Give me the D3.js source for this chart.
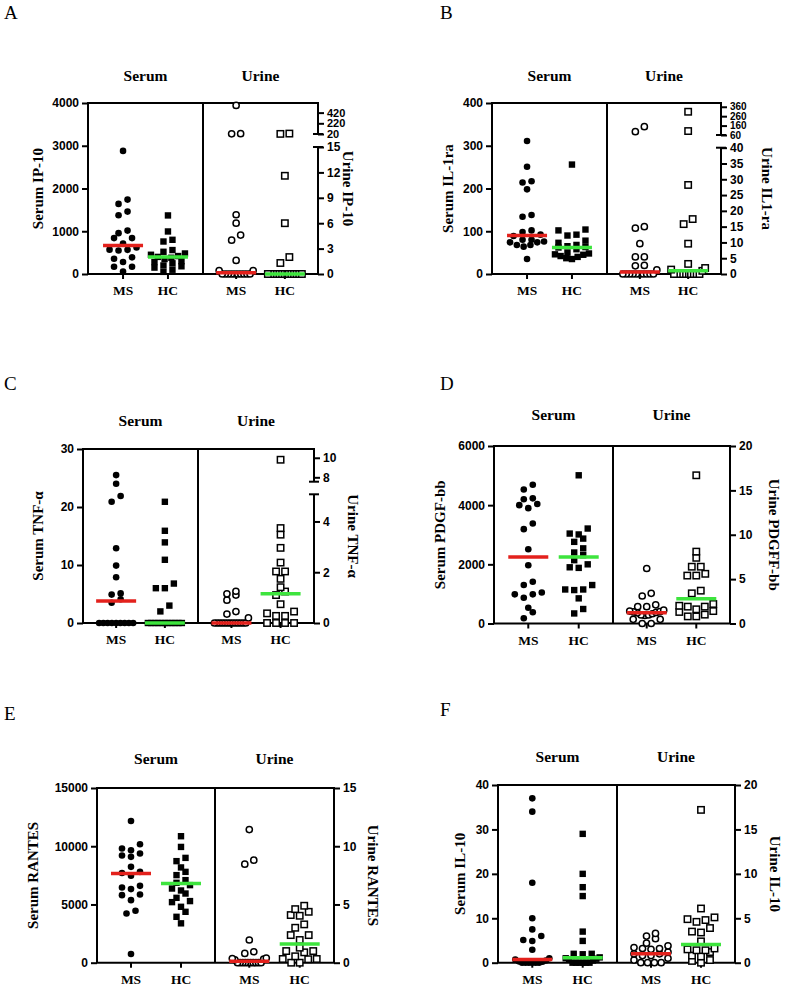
<!DOCTYPE html>
<html><head><meta charset="utf-8">
<script src="https://cdn.jsdelivr.net/npm/d3@7"></script>
<style>body{margin:0;background:#fff} svg{display:block}</style>
</head><body>
<script>
// ---------------- DATA ----------------
const groups = ["MS", "HC"];
const fluids = ["Serum", "Urine"];

// A: IP-10
const A_serum_MS = [2880,1740,1640,1460,1375,1015,955,840,840,715,620,570,565,550,390,355,280,170,170,60];
const A_serum_HC = [1370,995,800,760,560,520,480,450,420,400,380,350,300,280,250,200,180,150,100,50];
const A_urine_MS = [555,27,24,7.0,6.0,4.6,4.0,1.6,0.4,0.4,0,0,0,0,0,0,0,0,0,0];
const A_urine_HC = [28,22,11.6,6.0,2.0,1.3,0,0,0,0,0,0,0,0,0,0,0,0,0,0];
const A_medians = {serumMS:668, serumHC:395, urineMS:0.15, urineHC:0};
const A_leftTicks = [0,1000,2000,3000,4000];
const A_rightLowTicks = [0,3,6,9,12,15];
const A_rightHighTicks = [20,220,420];

// B: IL-1ra
const B_serum_MS = [311,251,217,214,198,138,134,102,98,92,89,80,80,76,74,74,68,68,64,35];
const B_serum_HC = [256,104,102,92,90,78,73,68,65,63,62,58,50,48,46,45,42,40,37,35];
const B_urine_MS = [148,95,15.0,14.5,9.6,5.4,5.4,2.7,2.6,1.3,0,0,0,0,0,0,0,0,0,0];
const B_urine_HC = [307,102,28.2,17.4,15.8,9.6,3.2,1.9,1.4,1.0,0,0,0,0,0,0,0,0,0,0];
const B_medians = {serumMS:90, serumHC:62, urineMS:0.6, urineHC:1.0};
const B_leftTicks = [0,100,200,300,400];
const B_rightLowTicks = [0,5,10,15,20,25,30,35,40];
const B_rightHighTicks = [60,160,260,360];

// C: TNF-alpha
const C_serum_MS = [25.5,24,21.9,20.9,12.9,9.9,7.9,5.1,4.9,4.1,3.5,0,0,0,0,0,0,0,0,0];
const C_serum_HC = [20.9,15.9,13.9,10.9,6.8,6.0,6.0,3.0,2.0,0,0,0,0,0,0,0,0,0,0,0];
const C_urine_MS = [1.25,1.15,1.1,0.9,0.45,0.35,0.2,0,0,0,0,0,0,0,0,0,0,0,0,0];
const C_urine_HC = [9.8,3.74,3.48,2.96,2.38,2.03,2.03,1.74,1.41,1.24,1.1,0.74,0.45,0.38,0.28,0.28,0,0,0,0];
const C_medians = {serumMS:3.8, serumHC:0, urineMS:0, urineHC:1.15};
const C_leftTicks = [0,10,20,30];
const C_rightLowTicks = [0,2,4];
const C_rightHighTicks = [8,10];

// D: PDGF-bb
const D_serum_MS = [4690,4530,4230,4200,4040,4000,3900,3380,3190,2510,1970,1410,1300,1050,985,985,870,530,380,175];
const D_serum_HC = [5010,3210,3040,3010,2870,2760,2540,2400,2310,2140,2000,1900,1880,1300,1150,1150,1130,850,490,340];
const D_urine_MS = [6.2,3.4,3.1,2.1,1.9,1.9,1.5,1.4,1.33,1.3,1.25,1.2,1.1,0.96,0.96,0.9,0.47,0.47,0,0];
const D_urine_HC = [16.7,8.1,7.4,6.4,6.4,5.6,5.4,5.4,3.7,3.4,2.2,2.0,1.9,1.9,1.6,1.4,1.3,1.0,0.8,0.8];
const D_medians = {serumMS:2250, serumHC:2250, urineMS:1.2, urineHC:2.8};
const D_leftTicks = [0,2000,4000,6000];
const D_rightTicks = [0,5,10,15,20];

// E: RANTES
const E_serum_MS = [12170,10170,9810,9660,9380,9210,9090,8230,7800,7700,7460,6600,6460,6320,5860,5800,5370,4460,4230,750];
const E_serum_HC = [10860,9940,9000,8720,8180,7800,7520,7090,6860,6660,6370,6200,5940,5570,5290,5200,4800,4370,3940,3380];
const E_urine_MS = [11.43,8.8,8.46,1.95,0.94,0.8,0.4,0.35,0.3,0.25,0,0,0,0,0,0,0,0,0,0];
const E_urine_HC = [4.89,4.6,4.37,4.09,4.03,3.29,3.0,2.37,2.37,1.95,1.29,1.0,1.0,0.89,0.55,0.32,0.32,0.3,0,0];
const E_medians = {serumMS:7660, serumHC:6800, urineMS:0.13, urineHC:1.6};
const E_leftTicks = [0,5000,10000,15000];
const E_rightTicks = [0,5,10,15];

// F: IL-10
const F_serum_MS = [37,34,18,10,7.5,6,5.1,4.9,2.9,1.0,0.7,0.5,0.3,0.2,0,0,0,0,0,0];
const F_serum_HC = [29,20,17,15,7,4.9,2.0,2.0,1.9,1.2,1.0,0.9,0.8,0.5,0,0,0,0,0,0];
const F_urine_MS = [3.3,3.0,2.7,2.2,1.9,1.7,1.6,1.6,1.5,1.2,1.0,1.0,0.8,0.8,0.5,0.3,0,0,0,0];
const F_urine_HC = [17.2,6.1,5.1,4.9,4.8,4.6,3.9,3.5,3.4,2.4,1.6,1.5,1.4,1.4,1.2,0.8,0.7,0.3,0.2,0];
const F_medians = {serumMS:0.7, serumHC:1.1, urineMS:1.0, urineHC:2.05};
const F_leftTicks = [0,10,20,30,40];
const F_rightTicks = [0,5,10,15,20];

// ---------------- LAYOUT ----------------
const panels = [
  {letter:"A", lp:[4,19], L:88, R:318, M:203, T:103, B:274, pad:0.78, titleY:81,
   leftLabel:"Serum IP-10", leftX:38, rightLabel:"Urine IP-10", rightX:348,
   leftDomain:[0,4000], leftTicks:A_leftTicks,
   right:{broken:true, low:{domain:[0,15], range:[274,147], ticks:A_rightLowTicks},
          high:{domain:[20,600], range:[134,103], ticks:A_rightHighTicks, fs:11}},
   data:[A_serum_MS,A_serum_HC,A_urine_MS,A_urine_HC], med:A_medians},
  {letter:"B", lp:[440,19], L:492, R:721, M:607, T:103, B:274, pad:0.78, titleY:81,
   leftLabel:"Serum IL-1ra", leftX:448, rightLabel:"Urine IL1-ra", rightX:767,
   leftDomain:[0,400], leftTicks:B_leftTicks,
   right:{broken:true, low:{domain:[0,40], range:[274,147.7], ticks:B_rightLowTicks},
          high:{domain:[60,400], range:[135,103], ticks:B_rightHighTicks, fs:10}},
   data:[B_serum_MS,B_serum_HC,B_urine_MS,B_urine_HC], med:B_medians},
  {letter:"C", lp:[4,390], L:83, R:314, M:198, T:449, B:623, pad:0.68, titleY:426,
   leftLabel:"Serum TNF-α", leftX:38, rightLabel:"Urine TNF-α", rightX:353,
   leftDomain:[0,30], leftTicks:C_leftTicks,
   right:{broken:true, low:{domain:[0,5.07], range:[623,494.3], ticks:C_rightLowTicks},
          high:{domain:[7.55,10.9], range:[481.7,449], ticks:C_rightHighTicks, fs:12}},
   data:[C_serum_MS,C_serum_HC,C_urine_MS,C_urine_HC], med:C_medians},
  {letter:"D", lp:[440,390], L:494, R:730, M:613, T:446, B:623.5, pad:0.68, titleY:420,
   leftLabel:"Serum PDGF-bb", leftX:440, rightLabel:"Urine PDGFF-bb", rightX:774,
   leftDomain:[0,6000], leftTicks:D_leftTicks,
   right:{broken:false, domain:[0,20], ticks:D_rightTicks},
   data:[D_serum_MS,D_serum_HC,D_urine_MS,D_urine_HC], med:D_medians},
  {letter:"E", lp:[4,720], L:97, R:334, M:215, T:788, B:962.7, pad:0.68, titleY:764,
   leftLabel:"Serum RANTES", leftX:33, rightLabel:"Urine RANTES", rightX:373,
   leftDomain:[0,15000], leftTicks:E_leftTicks,
   right:{broken:false, domain:[0,15], ticks:E_rightTicks},
   data:[E_serum_MS,E_serum_HC,E_urine_MS,E_urine_HC], med:E_medians},
  {letter:"F", lp:[440,716], L:498, R:735, M:617, T:785, B:962.7, pad:0.68, titleY:762,
   leftLabel:"Serum IL-10", leftX:460, rightLabel:"Urine IL-10", rightX:775,
   leftDomain:[0,40], leftTicks:F_leftTicks,
   right:{broken:false, domain:[0,20], ticks:F_rightTicks},
   data:[F_serum_MS,F_serum_HC,F_urine_MS,F_urine_HC], med:F_medians}
];

const RED = "#e3211c", GREEN = "#3de43d";
const SERIF = "'Liberation Serif','Times New Roman',serif";
const SANS = "'Liberation Sans',Arial,sans-serif";
const fmt = d3.format("d");

const svg = d3.select("body").append("svg").attr("width",787).attr("height",991)
  .style("background","#fff");

function swarm(vals, ys, cx) {
  const pts = vals.map(v => ({v, y: ys(v)})).sort((a,b) => b.y - a.y);
  const rows = []; let cur = null;
  for (const p of pts) {
    if (cur && Math.abs(cur.y0 - p.y) < 6.2) cur.items.push(p);
    else { cur = {y0:p.y, items:[p]}; rows.push(cur); }
  }
  rows.forEach(r => {
    const n = r.items.length;
    const sp = n > 1 ? Math.min(9, 34/(n-1)) : 0;
    const order = d3.range(n).map(i => i - (n-1)/2).sort((a,b) => Math.abs(a)-Math.abs(b) || a-b);
    r.items.forEach((p,i) => p.x = cx + order[i] * sp);
  });
  return pts;
}

function styleAxis(g, fs) {
  g.selectAll("path.domain").remove();
  g.selectAll(".tick line").attr("stroke","#000").attr("stroke-width",2);
  g.selectAll(".tick text").attr("font-family",SANS).attr("font-weight","bold")
    .attr("font-size",fs||12).attr("fill","#000");
}

panels.forEach(p => {
  const g = svg.append("g");
  const yL = d3.scaleLinear().domain(p.leftDomain).range([p.B, p.T]);
  let yR, lowS, highS;
  if (p.right.broken) {
    lowS = d3.scaleLinear().domain(p.right.low.domain).range(p.right.low.range);
    highS = d3.scaleLinear().domain(p.right.high.domain).range(p.right.high.range);
    const th = p.right.high.domain[0];
    yR = v => v >= th ? highS(v) : lowS(Math.min(v, p.right.low.domain[1]));
  } else {
    yR = d3.scaleLinear().domain(p.right.domain).range([p.B, p.T]);
  }
  const xS = d3.scalePoint().domain(groups).range([p.L, p.M]).padding(p.pad);
  const xU = d3.scalePoint().domain(groups).range([p.M, p.R]).padding(0.68);

  g.append("text").attr("x",p.lp[0]).attr("y",p.lp[1]).text(p.letter)
    .attr("font-family",SERIF).attr("font-size",19).attr("fill","#000");
  g.append("text").attr("x",(p.L+p.M)/2).attr("y",p.titleY).attr("text-anchor","middle")
    .text(fluids[0]).attr("font-family",SERIF).attr("font-weight","bold").attr("font-size",15.5);
  g.append("text").attr("x",(p.M+p.R)/2).attr("y",p.titleY).attr("text-anchor","middle")
    .text(fluids[1]).attr("font-family",SERIF).attr("font-weight","bold").attr("font-size",15.5);

  const la = g.append("g").attr("transform",`translate(${p.L},0)`)
    .call(d3.axisLeft(yL).tickValues(p.leftTicks).tickFormat(fmt).tickSize(6).tickPadding(3).tickSizeOuter(0));
  styleAxis(la);
  if (p.right.broken) {
    const ra1 = g.append("g").attr("transform",`translate(${p.R},0)`)
      .call(d3.axisRight(lowS).tickValues(p.right.low.ticks).tickFormat(fmt).tickSize(6).tickPadding(3).tickSizeOuter(0));
    styleAxis(ra1);
    const ra2 = g.append("g").attr("transform",`translate(${p.R},0)`)
      .call(d3.axisRight(highS).tickValues(p.right.high.ticks).tickFormat(fmt).tickSize(6).tickPadding(3).tickSizeOuter(0));
    styleAxis(ra2, p.right.high.fs);
    const lr = p.right.low.range, hr = p.right.high.range;
    g.append("line").attr("x1",p.R).attr("x2",p.R).attr("y1",lr[0]).attr("y2",lr[1]);
    g.append("line").attr("x1",p.R).attr("x2",p.R).attr("y1",hr[0]).attr("y2",p.T);
    g.append("line").attr("x1",p.R-5).attr("x2",p.R+5).attr("y1",lr[1]).attr("y2",lr[1]);
    g.append("line").attr("x1",p.R-5).attr("x2",p.R+5).attr("y1",hr[0]).attr("y2",hr[0]);
  } else {
    const ra = g.append("g").attr("transform",`translate(${p.R},0)`)
      .call(d3.axisRight(yR).tickValues(p.right.ticks).tickFormat(fmt).tickSize(6).tickPadding(3).tickSizeOuter(0));
    styleAxis(ra);
    g.append("line").attr("x1",p.R).attr("x2",p.R).attr("y1",p.B).attr("y2",p.T);
  }
  g.append("line").attr("x1",p.L).attr("x2",p.L).attr("y1",p.B).attr("y2",p.T);
  g.append("line").attr("x1",p.M).attr("x2",p.M).attr("y1",p.B).attr("y2",p.T);
  g.append("line").attr("x1",p.L-1).attr("x2",p.R+1).attr("y1",p.T).attr("y2",p.T);
  g.append("line").attr("x1",p.L-1).attr("x2",p.R+1).attr("y1",p.B).attr("y2",p.B);
  g.selectAll("line").attr("stroke","#000").attr("stroke-width",2);

  const xs = [xS("MS"), xS("HC"), xU("MS"), xU("HC")];
  const labs = [groups[0], groups[1], groups[0], groups[1]];
  xs.forEach((x,i) => {
    g.append("line").attr("x1",x).attr("x2",x).attr("y1",p.B).attr("y2",p.B+5)
      .attr("stroke","#000").attr("stroke-width",2);
    g.append("text").attr("x",x).attr("y",p.B+21).attr("text-anchor","middle").text(labs[i])
      .attr("font-family",SERIF).attr("font-weight","bold").attr("font-size",13.5);
  });

  g.append("text").attr("transform",`translate(${p.leftX},${(p.T+p.B)/2}) rotate(-90)`)
    .attr("text-anchor","middle").attr("dy","0.35em").text(p.leftLabel)
    .attr("font-family",SERIF).attr("font-weight","bold").attr("font-size",15);
  g.append("text").attr("transform",`translate(${p.rightX},${(p.T+p.B)/2}) rotate(90)`)
    .attr("text-anchor","middle").attr("dy","0.35em").text(p.rightLabel)
    .attr("font-family",SERIF).attr("font-weight","bold").attr("font-size",15);

  const sets = [
    {vals:p.data[0], ys:yL, cx:xs[0], kind:"fc"},
    {vals:p.data[1], ys:yL, cx:xs[1], kind:"fs"},
    {vals:p.data[2], ys:yR, cx:xs[2], kind:"oc"},
    {vals:p.data[3], ys:yR, cx:xs[3], kind:"os"}
  ];
  sets.forEach(s => {
    const pts = swarm(s.vals, s.ys, s.cx);
    const pg = g.append("g");
    if (s.kind === "fc") {
      pg.selectAll("circle").data(pts).join("circle").attr("cx",d=>d.x).attr("cy",d=>d.y)
        .attr("r",3.3).attr("fill","#000");
    } else if (s.kind === "fs") {
      pg.selectAll("rect").data(pts).join("rect").attr("x",d=>d.x-3.2).attr("y",d=>d.y-3.2)
        .attr("width",6.4).attr("height",6.4).attr("fill","#000");
    } else if (s.kind === "oc") {
      pg.selectAll("circle").data(pts).join("circle").attr("cx",d=>d.x).attr("cy",d=>d.y)
        .attr("r",3.1).attr("fill","#fff").attr("stroke","#000").attr("stroke-width",1.5);
    } else {
      pg.selectAll("rect").data(pts).join("rect").attr("x",d=>d.x-3.2).attr("y",d=>d.y-3.2)
        .attr("width",6.4).attr("height",6.4).attr("fill","#fff").attr("stroke","#000").attr("stroke-width",1.5);
    }
  });

  // median lines on top
  const meds = [
    {x:xs[0], y:yL(p.med.serumMS), c:RED},
    {x:xs[1], y:yL(p.med.serumHC), c:GREEN},
    {x:xs[2], y:yR(p.med.urineMS), c:RED},
    {x:xs[3], y:yR(p.med.urineHC), c:GREEN}
  ];
  g.append("g").selectAll("line").data(meds).join("line")
    .attr("x1",d=>d.x-20).attr("x2",d=>d.x+20).attr("y1",d=>d.y).attr("y2",d=>d.y)
    .attr("stroke",d=>d.c).attr("stroke-width",3.5);
});
</script>
</body></html>
